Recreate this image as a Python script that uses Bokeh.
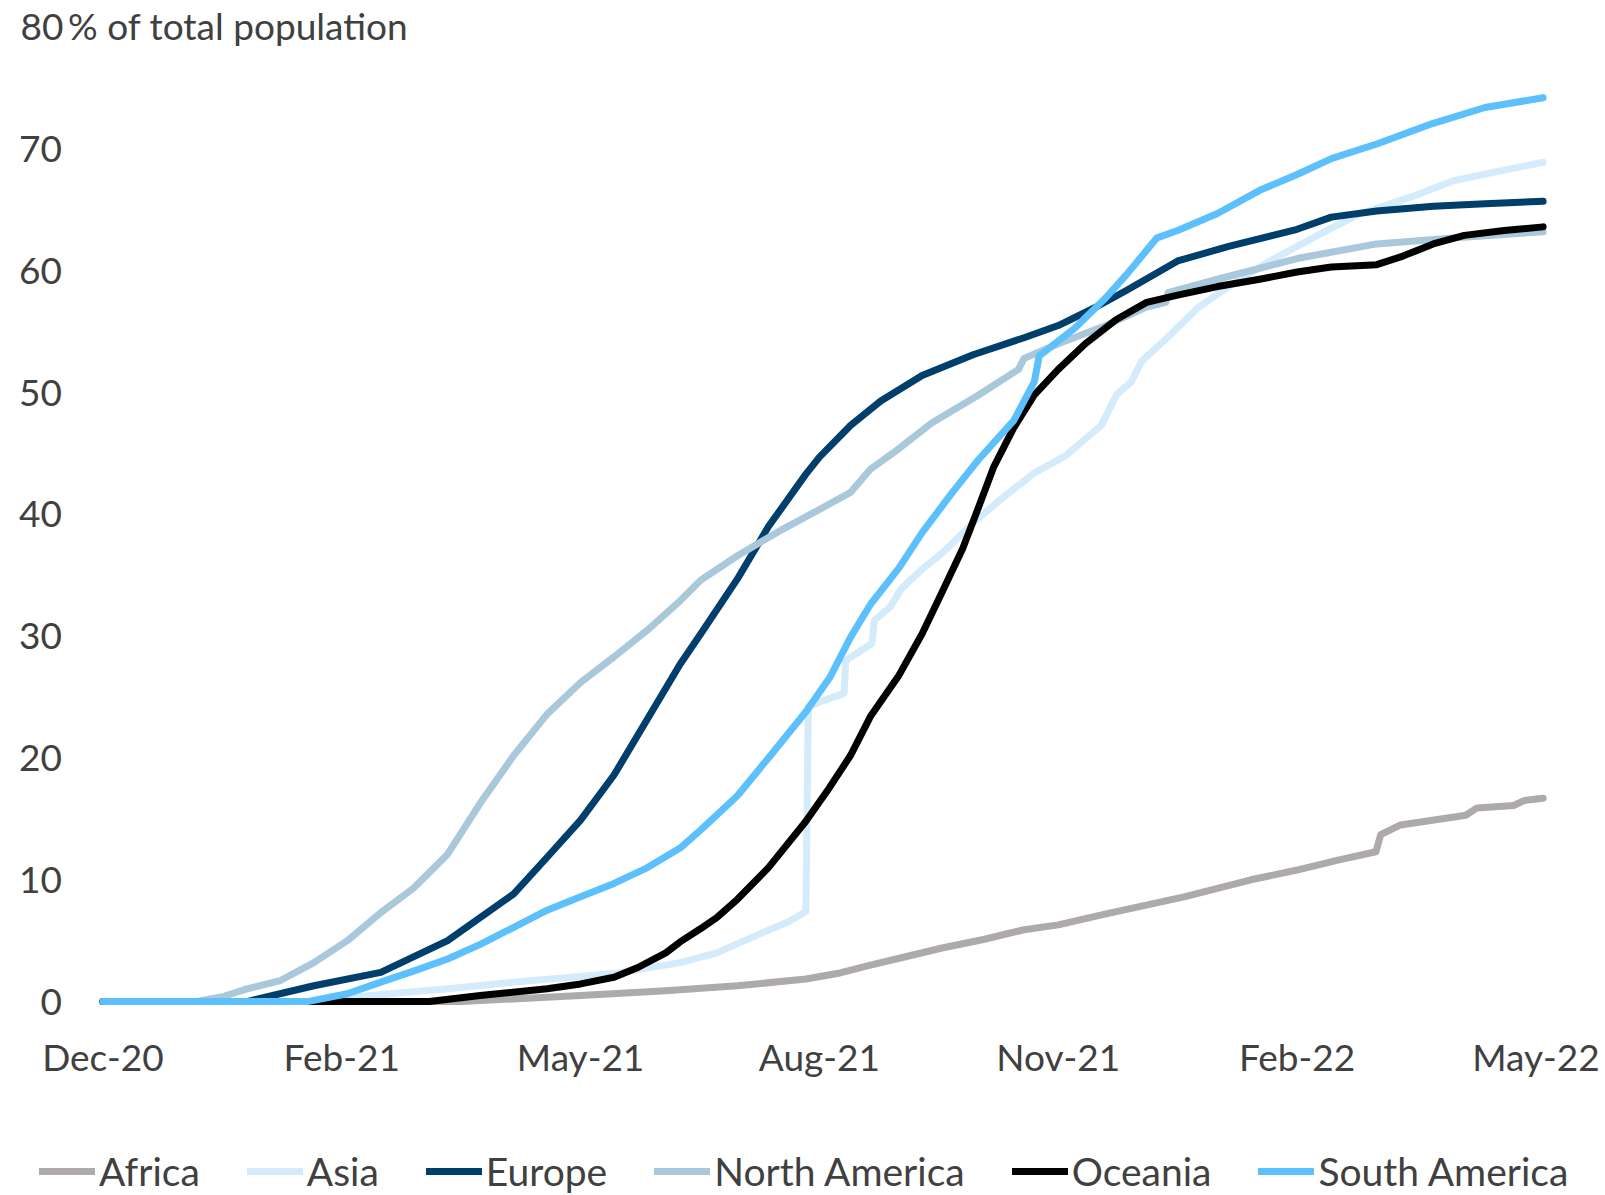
from bokeh.plotting import figure
from bokeh.models import Legend, LegendItem, FixedTicker, Label
from bokeh.embed import file_html
from bokeh.resources import INLINE

# Share of population vaccinated (%), by continent.
# x positions are in months from the first axis label; axis labels every 3 months.
tick_pos = [0, 3, 6, 9, 12, 15, 18]
tick_labels = ["Dec-20", "Feb-21", "May-21", "Aug-21", "Nov-21", "Feb-22", "May-22"]
y_ticks = [0, 10, 20, 30, 40, 50, 60, 70]
y_top = 80

africa_t = [0, 4.5, 6.0, 7.07, 7.97, 8.83, 9.26, 9.64, 10.03, 10.54, 11.06, 11.57, 12.0,
            12.6, 13.58, 14.42, 15.0, 15.5, 15.99, 16.05, 16.3, 17.12, 17.26, 17.72, 17.85, 18.09]
africa_v = [0, 0, 0.5, 0.9, 1.3, 1.85, 2.35, 3.0, 3.6, 4.4, 5.1, 5.9, 6.3,
            7.2, 8.6, 10.0, 10.8, 11.6, 12.3, 13.7, 14.5, 15.3, 15.9, 16.1, 16.5, 16.7]

asia_t = [0, 2.6, 3.0, 4.33, 5.16, 6.42, 7.25, 7.71, 8.23, 8.61, 8.83, 8.86, 9.0, 9.31, 9.33,
          9.66, 9.69, 9.89, 10.03, 10.29, 10.54, 10.93, 11.31, 11.7, 12.09, 12.54, 12.73, 12.92,
          13.05, 13.37, 13.76, 14.14, 14.66, 15.0, 15.43, 15.8, 16.45, 16.97, 17.48, 18.09]
asia_v = [0, 0, 0.3, 1.05, 1.6, 2.3, 3.2, 4.0, 5.5, 6.55, 7.4, 24.2, 24.6, 25.3, 28.0,
          29.4, 31.3, 32.4, 33.9, 35.5, 36.8, 39.3, 41.4, 43.4, 44.8, 47.3, 49.8, 50.9,
          52.6, 54.5, 57.0, 58.7, 60.8, 62.0, 63.5, 64.7, 66.1, 67.4, 68.1, 68.9]

europe_t = [0, 1.81, 2.65, 3.49, 4.33, 5.16, 5.58, 6.0, 6.42, 6.84, 7.25, 7.51, 7.97, 8.36,
            8.83, 9.0, 9.39, 9.77, 10.29, 10.93, 11.57, 12.0, 12.47, 12.86, 13.5, 14.14,
            15.0, 15.43, 16.0, 16.71, 17.36, 18.09]
europe_v = [0, 0, 1.3, 2.4, 5.0, 8.85, 11.85, 14.9, 18.6, 23.2, 27.7, 30.2, 34.7, 39.0,
            43.3, 44.7, 47.3, 49.3, 51.4, 53.1, 54.5, 55.5, 57.0, 58.4, 60.8, 62.0,
            63.4, 64.4, 64.9, 65.3, 65.5, 65.7]

namerica_t = [0, 1.16, 1.5, 1.81, 2.23, 2.65, 3.07, 3.49, 3.9, 4.33, 4.74, 5.16, 5.58, 6.0,
              6.42, 6.84, 7.25, 7.51, 7.97, 8.49, 9.0, 9.39, 9.64, 10.0, 10.41, 11.0, 11.5,
              11.57, 12.0, 12.6, 13.1, 13.35, 13.38, 14.0, 15.0, 16.0, 17.0, 18.09]
namerica_v = [0, 0, 0.4, 1.05, 1.73, 3.2, 5.0, 7.3, 9.3, 12.1, 16.3, 20.2, 23.6, 26.2,
              28.3, 30.5, 32.9, 34.6, 36.6, 38.6, 40.4, 41.8, 43.7, 45.4, 47.5, 49.8, 51.9,
              52.8, 54.0, 55.5, 57.0, 57.4, 58.2, 59.3, 61.0, 62.2, 62.7, 63.2]

oceania_t = [0, 4.1, 4.74, 5.58, 6.0, 6.42, 6.72, 7.07, 7.25, 7.51, 7.71, 7.97, 8.36, 8.83,
             9.13, 9.39, 9.64, 10.0, 10.29, 10.54, 10.8, 11.0, 11.19, 11.44, 11.7, 12.0,
             12.34, 12.73, 13.11, 13.5, 14.0, 14.53, 15.0, 15.43, 16.0, 16.33, 16.71, 17.1,
             17.6, 18.09]
oceania_v = [0, 0, 0.5, 1.05, 1.45, 2.0, 2.8, 4.0, 4.9, 6.0, 6.9, 8.4, 11.0, 14.8,
             17.6, 20.2, 23.4, 26.8, 30.2, 33.6, 37.2, 40.6, 43.9, 47.1, 49.8, 51.9,
             54.0, 56.0, 57.4, 58.0, 58.7, 59.3, 59.9, 60.3, 60.5, 61.2, 62.2, 62.9,
             63.3, 63.6]

samerica_t = [0, 2.57, 3.07, 3.49, 3.9, 4.33, 4.74, 5.16, 5.58, 6.0, 6.42, 6.84, 7.25, 7.51,
              7.97, 8.36, 8.83, 9.13, 9.39, 9.64, 10.0, 10.29, 10.67, 11.0, 11.44, 11.7,
              11.76, 12.21, 12.6, 12.86, 13.24, 13.5, 14.0, 14.53, 15.0, 15.43, 16.0, 16.71,
              17.36, 18.09]
samerica_v = [0, 0, 0.64, 1.6, 2.5, 3.5, 4.7, 6.1, 7.5, 8.6, 9.7, 11.0, 12.6, 14.1,
              16.9, 20.0, 23.8, 26.6, 29.9, 32.6, 35.6, 38.5, 41.8, 44.5, 47.7, 50.9,
              53.0, 55.3, 57.8, 59.7, 62.7, 63.3, 64.7, 66.6, 67.9, 69.2, 70.4, 72.1,
              73.4, 74.2]

series = [
    ("Africa", africa_t, africa_v, "#AEAAAA"),
    ("Asia", asia_t, asia_v, "#D3EBFB"),
    ("Europe", europe_t, europe_v, "#003F6B"),
    ("North America", namerica_t, namerica_v, "#A9C8DC"),
    ("Oceania", oceania_t, oceania_v, "#000000"),
    ("South America", samerica_t, samerica_v, "#5BC0FB"),
]

FONT = "Lato"
TEXT = "#404040"
FS = "37px"
LEGEND_FS = "39px"
LINE_W = 7
W, H = 1605, 1195

# The plotting frame fills the whole canvas; the axes are pinned at x=0 / y=0,
# so the data area runs from 102 px (left) to 1543 px (right) and from 27 px
# (80 %) down to 1001 px (0 %).
PLOT_L, PLOT_R = 102.4, 1542.6
PLOT_T, PLOT_B = 26.6, 1001.1
x_last = max(samerica_t)
px_x = (PLOT_R - PLOT_L) / x_last
px_y = (PLOT_B - PLOT_T) / y_top
x_range = (-PLOT_L / px_x, x_last + (W - PLOT_R) / px_x)
y_range = (-(H - PLOT_B) / px_y, y_top + PLOT_T / px_y)

p = figure(width=W, height=H, x_range=x_range, y_range=y_range,
           output_backend="svg", toolbar_location=None, min_border=0)
p.outline_line_color = None
p.background_fill_color = "white"
p.border_fill_color = "white"
p.xgrid.visible = False
p.ygrid.visible = False

renderers = []
for name, t, v, color in series:
    r = p.line(t, v, line_color=color, line_width=LINE_W, line_join="round", line_cap="round")
    renderers.append((name, r))

for ax in (p.xaxis[0], p.yaxis[0]):
    ax.fixed_location = 0
    ax.axis_line_color = None
    ax.major_tick_line_color = None
    ax.minor_tick_line_color = None
    ax.major_tick_out = 0
    ax.major_tick_in = 0
    ax.major_label_text_font = FONT
    ax.major_label_text_font_size = FS
    ax.major_label_text_color = TEXT

p.xaxis.ticker = FixedTicker(ticks=tick_pos)
p.xaxis.major_label_overrides = {t: lab for t, lab in zip(tick_pos, tick_labels)}
p.xaxis.major_label_standoff = 32

p.yaxis.ticker = FixedTicker(ticks=y_ticks)
p.yaxis.major_label_standoff = 41

# axis title sits level with the 80 % mark, left-aligned with the tick labels
p.add_layout(Label(x=20, y=y_top, x_units="screen", y_units="data", y_offset=2,
                   text="80\u2009% of total population", text_font=FONT,
                   text_font_size=FS, text_color=TEXT,
                   text_align="left", text_baseline="middle"))

legend = Legend(items=[LegendItem(label=n, renderers=[r]) for n, r in renderers],
                orientation="horizontal", location=(39, 1),
                glyph_width=56, glyph_height=40, label_height=40,
                label_standoff=4, spacing=47, padding=0, margin=0,
                border_line_color=None, background_fill_alpha=0,
                label_text_font=FONT, label_text_font_size=LEGEND_FS,
                label_text_color=TEXT, label_text_baseline="middle")
p.add_layout(legend)

open("out.html", "w").write(file_html(p, INLINE))
